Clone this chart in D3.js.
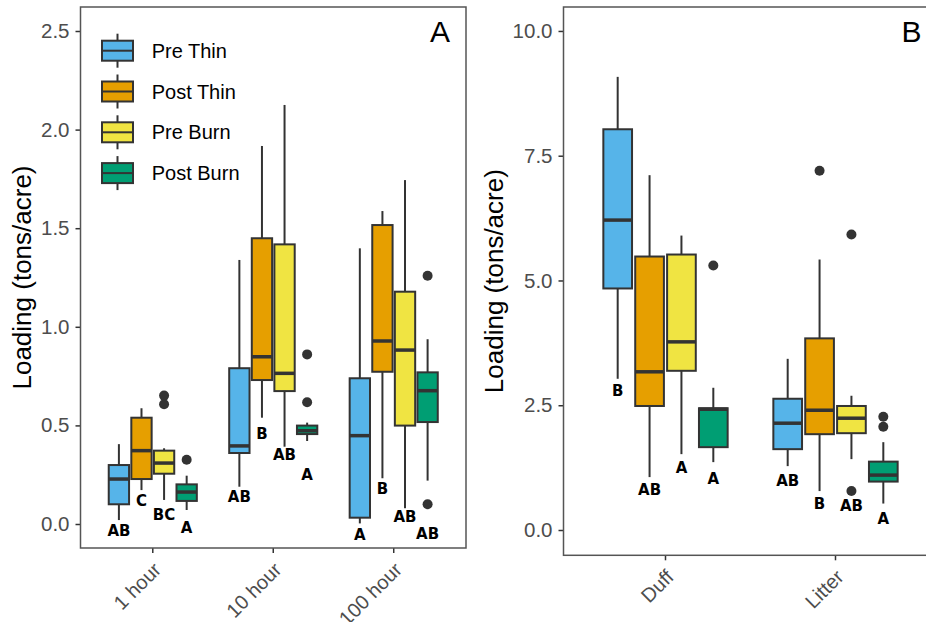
<!DOCTYPE html>
<html>
<head>
<meta charset="utf-8">
<script src="https://cdn.jsdelivr.net/npm/d3@7"></script>
<style>
  html, body { margin: 0; padding: 0; background: #fff; }
  svg { display: block; }
</style>
</head>
<body>
<svg id="chart" width="926" height="622"></svg>
<script>
// ---------------- DATA ----------------
const groups = ["Pre Thin", "Post Thin", "Pre Burn", "Post Burn"];
const groupColors = ["#56B4E9", "#E69F00", "#F0E442", "#009E73"];

// Panel A: fine woody fuels
const catsA = ["1 hour", "10 hour", "100 hour"];
const ticksA = [0.0, 0.5, 1.0, 1.5, 2.0, 2.5];
// [lower whisker, Q1, median, Q3, upper whisker] per category, per group
const statsA_1hour   = [[0.02, 0.10, 0.228, 0.299, 0.405], [0.172, 0.228, 0.372, 0.539, 0.587], [0.122, 0.255, 0.309, 0.372, 0.384], [0.071, 0.117, 0.162, 0.201, 0.245]];
const statsA_10hour  = [[0.189, 0.36, 0.396, 0.79, 1.339], [0.539, 0.730, 0.848, 1.449, 1.917], [0.392, 0.674, 0.764, 1.418, 2.125], [0.421, 0.456, 0.473, 0.499, 0.514]];
const statsA_100hour = [[0.003, 0.032, 0.448, 0.739, 1.398], [0.232, 0.772, 0.928, 1.516, 1.587], [0.08, 0.499, 0.882, 1.178, 1.744], [0.22, 0.517, 0.676, 0.769, 0.937]];
const outliersA_1hour   = [[], [], [0.651, 0.607], [0.326]];
const outliersA_10hour  = [[], [], [], [0.86, 0.617]];
const outliersA_100hour = [[], [], [], [1.259, 0.10]];
const lettersA_1hour   = ["AB", "C", "BC", "A"];
const lettersA_10hour  = ["AB", "B", "AB", "A"];
const lettersA_100hour = ["A", "B", "AB", "AB"];
const letterYA_1hour   = [-0.034, 0.117, 0.05, -0.019];
const letterYA_10hour  = [0.139, 0.46, 0.35, 0.248];
const letterYA_100hour = [-0.052, 0.177, 0.037, -0.047];

// Panel B: duff & litter
const catsB = ["Duff", "Litter"];
const ticksB = [0.0, 2.5, 5.0, 7.5, 10.0];
const statsB_duff   = [[3.03, 4.84, 6.21, 8.03, 9.08], [1.06, 2.485, 3.17, 5.48, 7.11], [1.52, 3.19, 3.77, 5.52, 5.9], [1.36, 1.66, 2.42, 2.44, 2.85]];
const statsB_litter = [[1.28, 1.62, 2.14, 2.63, 3.43], [0.78, 1.92, 2.40, 3.84, 5.42], [1.42, 1.94, 2.24, 2.485, 2.69], [0.53, 0.97, 1.10, 1.37, 1.76]];
const outliersB_duff   = [[], [], [], [5.30]];
const outliersB_litter = [[], [7.20], [5.92, 0.78], [2.27, 2.07]];
const lettersB_duff   = ["B", "AB", "A", "A"];
const lettersB_litter = ["AB", "B", "AB", "A"];
const letterYB_duff   = [2.79, 0.815, 1.26, 1.02];
const letterYB_litter = [0.99, 0.52, 0.49, 0.23];

const yTitle = "Loading (tons/acre)";

// ---------------- BUILD ----------------
function buildRows(cats, stats, outs, letters, letterY) {
  const rows = [];
  cats.forEach((c, ci) => {
    groups.forEach((g, gi) => {
      const s = stats[ci][gi];
      rows.push({cat: c, group: g, gi: gi, lo: s[0], q1: s[1], med: s[2], q3: s[3], hi: s[4],
                 outliers: outs[ci][gi], letter: letters[ci][gi], letterY: letterY[ci][gi]});
    });
  });
  return rows;
}

const dataA = buildRows(catsA,
  [statsA_1hour, statsA_10hour, statsA_100hour],
  [outliersA_1hour, outliersA_10hour, outliersA_100hour],
  [lettersA_1hour, lettersA_10hour, lettersA_100hour],
  [letterYA_1hour, letterYA_10hour, letterYA_100hour]);
const dataB = buildRows(catsB,
  [statsB_duff, statsB_litter],
  [outliersB_duff, outliersB_litter],
  [lettersB_duff, lettersB_litter],
  [letterYB_duff, letterYB_litter]);

const svg = d3.select("#chart");
const color = d3.scaleOrdinal().domain(groups).range(groupColors);
const FONT = "Liberation Sans, Arial, sans-serif";

function drawPanel(opts) {
  const {left, right, top, bottom, cats, data, yDomain, ticks, tickFmt, label, titleX} = opts;
  const g = svg.append("g");

  const x = d3.scaleBand().domain(cats).range([left, right]).paddingInner(0).paddingOuter(0.1);
  const step = x.step();
  const xs = d3.scaleBand().domain(groups).range([-0.375 * step, 0.375 * step]);
  const bw = xs.bandwidth() * 0.9;
  const y = d3.scaleLinear().domain(yDomain).range([bottom, top]);

  const cx = d => x(d.cat) + x.bandwidth() / 2 + xs(d.group) + xs.bandwidth() / 2;

  // axes
  const yAxis = g.append("g").attr("transform", `translate(${left},0)`)
    .call(d3.axisLeft(y).tickValues(ticks).tickFormat(tickFmt).tickSize(5).tickPadding(6));
  yAxis.select(".domain").remove();
  yAxis.selectAll(".tick line").attr("stroke", "#333").attr("stroke-width", 1.5);
  yAxis.selectAll(".tick text").attr("fill", "#4D4D4D").style("font-family", FONT).style("font-size", "20.5px");

  const xAxis = g.append("g").attr("transform", `translate(0,${bottom})`)
    .call(d3.axisBottom(x).tickSize(5).tickFormat(""));
  xAxis.select(".domain").remove();
  xAxis.selectAll(".tick line").attr("stroke", "#333").attr("stroke-width", 1.5);

  g.selectAll(".xlab").data(cats).enter().append("text")
    .attr("transform", c => `translate(${x(c) + x.bandwidth() / 2 + 4.5},${bottom + 18}) rotate(-45)`)
    .attr("text-anchor", "end").attr("dy", "0.35em")
    .attr("fill", "#4D4D4D")
    .style("font-family", FONT).style("font-size", "20px")
    .text(c => c);

  // y title
  g.append("text")
    .attr("transform", `translate(${titleX},${(top + bottom) / 2}) rotate(-90)`)
    .attr("text-anchor", "middle")
    .attr("fill", "#000")
    .style("font-family", FONT).style("font-size", "26px")
    .text(yTitle);

  // boxes
  const bx = g.selectAll(".box").data(data).enter().append("g");
  bx.append("line")
    .attr("x1", cx).attr("x2", cx)
    .attr("y1", d => y(d.hi)).attr("y2", d => y(d.q3))
    .attr("stroke", "#333").attr("stroke-width", 2);
  bx.append("line")
    .attr("x1", cx).attr("x2", cx)
    .attr("y1", d => y(d.q1)).attr("y2", d => y(d.lo))
    .attr("stroke", "#333").attr("stroke-width", 2);
  bx.append("rect")
    .attr("x", d => cx(d) - bw / 2).attr("width", bw)
    .attr("y", d => y(d.q3)).attr("height", d => y(d.q1) - y(d.q3))
    .attr("fill", d => color(d.group)).attr("stroke", "#333").attr("stroke-width", 2);
  bx.append("line")
    .attr("x1", d => cx(d) - bw / 2).attr("x2", d => cx(d) + bw / 2)
    .attr("y1", d => y(d.med)).attr("y2", d => y(d.med))
    .attr("stroke", "#333").attr("stroke-width", 3.5);
  bx.selectAll("circle").data(d => d.outliers.map(v => ({v: v, p: d}))).enter().append("circle")
    .attr("cx", o => cx(o.p)).attr("cy", o => y(o.v)).attr("r", 5).attr("fill", "#333");

  // letters
  g.selectAll(".let").data(data).enter().append("text")
    .attr("x", cx).attr("y", d => y(d.letterY))
    .attr("dy", "0.36em")
    .attr("text-anchor", "middle")
    .style("font-family", "DejaVu Sans, Verdana, sans-serif").style("font-weight", "bold").style("font-size", "15px")
    .attr("fill", "#000")
    .text(d => d.letter);

  // panel border
  g.append("rect").attr("x", left).attr("y", top).attr("width", right - left).attr("height", bottom - top)
    .attr("fill", "none").attr("stroke", "#555").attr("stroke-width", 1.5);

  // panel letter
  g.append("text").attr("x", right - 16).attr("y", top + 35).attr("text-anchor", "end")
    .style("font-family", FONT).style("font-size", "30px")
    .attr("fill", "#000").text(label);

  return g;
}

const gA = drawPanel({left: 80.5, right: 466, top: 7, bottom: 548, cats: catsA, data: dataA,
  yDomain: [-0.1217, 2.6217], ticks: ticksA, tickFmt: d3.format(".1f"), label: "A", titleX: 31});
const gB = drawPanel({left: 563.5, right: 937.5, top: 7, bottom: 555.3, cats: catsB, data: dataB,
  yDomain: [-0.507, 10.48], ticks: ticksB, tickFmt: d3.format(".1f"), label: "B", titleX: 503});

// legend (inside panel A)
const legend = gA.append("g");
const legRowY = groups.map((gname, i) => 50.7 + i * 40.8);
groups.forEach((gname, i) => {
  const yc = legRowY[i];
  const kx = 117.5, kw = 31, kh = 20;
  legend.append("line").attr("x1", kx).attr("x2", kx).attr("y1", yc - 17).attr("y2", yc + 17)
    .attr("stroke", "#333").attr("stroke-width", 2);
  legend.append("rect").attr("x", kx - kw / 2).attr("y", yc - kh / 2).attr("width", kw).attr("height", kh)
    .attr("fill", color(gname)).attr("stroke", "#333").attr("stroke-width", 2);
  legend.append("line").attr("x1", kx - kw / 2).attr("x2", kx + kw / 2).attr("y1", yc).attr("y2", yc)
    .attr("stroke", "#333").attr("stroke-width", 2);
  legend.append("text").attr("x", 151.7).attr("y", yc + 7)
    .style("font-family", FONT).style("font-size", "20px")
    .attr("fill", "#000").text(gname);
});
</script>
</body>
</html>
